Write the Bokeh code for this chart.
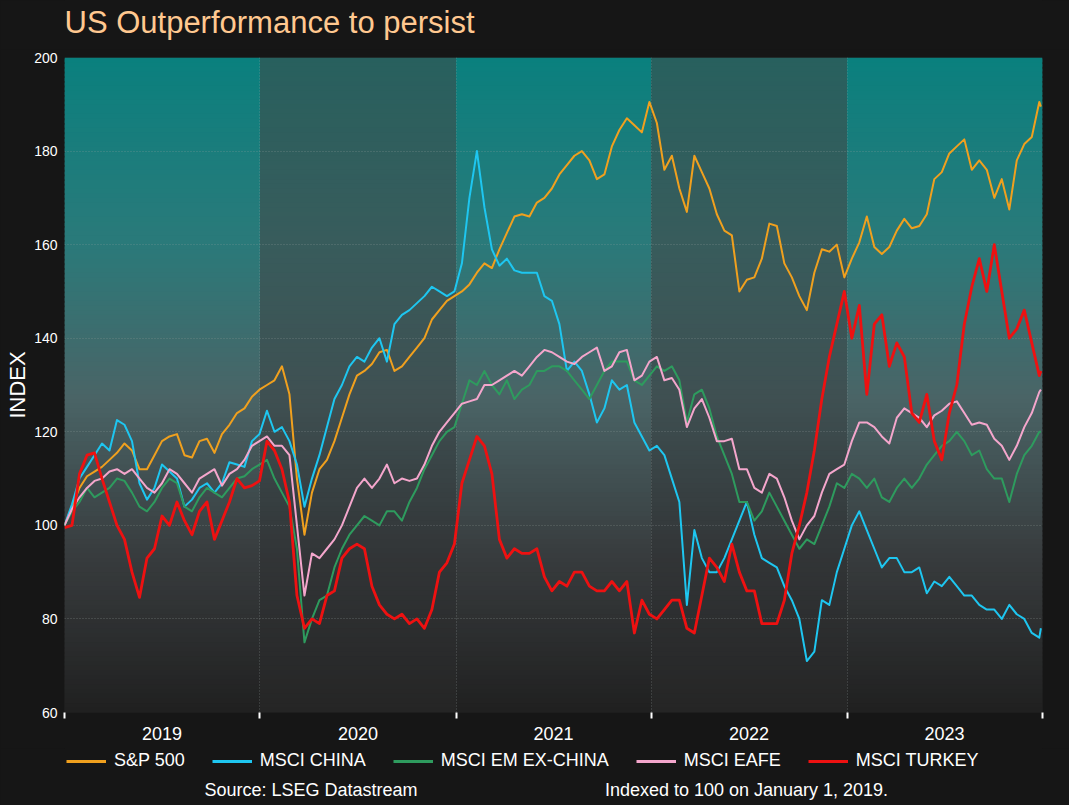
import pandas as pd
from datetime import datetime
from bokeh.plotting import figure
from bokeh.layouts import column
from bokeh.models import (FixedTicker, CustomJSTickFormatter, Legend, LegendItem,
                          ColumnDataSource, Range1d)
from bokeh.core.properties import value
from bokeh.embed import file_html
from bokeh.resources import INLINE

# ---------------- data ----------------
dates = list(pd.date_range("2019-01-01", periods=131, freq="14D")) + [pd.Timestamp("2023-12-29")]

sp500 = [100, 104, 108, 110.5, 111.5, 112.5, 114, 115.5, 117.5, 116, 112, 112, 115, 118, 119, 119.5,
         115, 114.5, 118, 118.5, 115.5, 119.5, 121.5, 124, 125, 127.5, 129, 130, 131, 134, 128, 110,
         98, 107, 112, 114, 118, 123, 128, 132, 133, 134.5, 137, 137.5, 133, 134, 136, 138,
         140, 144, 146, 148, 149, 150, 151.5, 154, 156, 155, 159, 162.5, 166, 166.5, 166, 169,
         170, 172, 175, 177, 179, 180, 178, 174, 175, 181, 184.5, 187, 185.5, 184, 190.5, 186,
         176, 179, 172, 167, 179, 175.5, 172, 166.5, 163, 162, 150, 152.5, 153, 157, 164.5, 164,
         156, 153, 149, 146, 154, 159, 158.5, 160, 153, 157, 160.5, 166, 159.5, 158, 159.5, 163,
         165.5, 163.5, 164, 166.5, 174, 175.5, 179.5, 181, 182.5, 176, 178, 176, 170, 174, 167.5, 178,
         181.5, 183, 190.5, 189.5]

msci_china = [100, 104.5, 110, 112.5, 115, 117.5, 116, 122.5, 121.5, 118, 109, 105.5, 108, 113, 111.5, 110,
              104, 105.5, 108, 109, 107, 109, 113.5, 113, 112.5, 118, 119.5, 124.5, 120, 121, 118, 113,
              104, 110, 115, 121, 127, 130, 134, 136, 135, 138, 140, 135, 143, 145, 146, 147.5,
              149, 151, 150, 149, 150, 156, 170, 180, 168, 159, 155.5, 157, 154.5, 154, 154, 154,
              149, 148, 143, 133, 135, 133, 128, 122, 125, 131, 129, 130, 122, 119, 116, 117,
              115, 110, 105, 83, 99, 93, 90, 90, 93, 97, 101, 105, 98, 93, 92, 91,
              87, 84, 80, 71, 73, 84, 83, 90, 95, 100, 103, 99, 95, 91, 93, 93,
              90, 90, 91, 85.5, 88, 87, 89, 87, 85, 85, 83, 82, 82, 80, 83, 81,
              80, 77, 76, 78]

msci_em_ex_china = [100, 103, 105, 108, 106, 107, 108, 110, 109.5, 107, 104, 103, 105, 108, 110, 109,
                    104, 103, 106, 108, 107, 106, 108, 110, 110.5, 112, 113, 114, 110, 107, 104, 95,
                    75, 80, 84, 85, 91, 95, 98, 100, 102, 101, 100, 103, 103, 101, 105, 108,
                    112, 115, 118, 120, 121, 126, 131, 130, 133, 130, 128, 131, 127, 129, 130, 133,
                    133, 134, 134, 133, 131, 129, 127, 130, 133, 135, 135, 135, 131, 130, 132, 134,
                    133, 134, 131, 122, 128, 129, 125, 119, 115, 111, 105, 105, 101, 103, 107, 104,
                    101, 98, 95, 97, 96, 100, 104, 109, 108, 111, 110, 108, 110, 106, 105, 108,
                    110, 108, 110, 113, 115, 117, 118, 120, 118, 115, 116, 112, 110, 110, 105, 111,
                    115, 117, 120, 120]

msci_eafe = [100, 103.5, 106, 108, 109.5, 110, 111.5, 112, 111, 112, 110, 108, 107, 109, 112, 111,
             109, 107, 110, 111, 112, 108.5, 111, 112, 114, 117, 118, 119, 117, 117, 115, 100,
             85, 94, 93, 95, 97, 100, 104, 108, 110, 108, 110, 113, 109, 110, 109.5, 110,
             113, 117, 120, 122, 124, 126, 126.5, 127, 130, 130, 131, 132, 133, 132, 134, 136,
             137.5, 137, 136, 135, 134.5, 136, 137, 138, 133, 134, 137, 137.5, 131, 132, 135, 136,
             131, 131.5, 129, 121, 125, 127, 123, 118, 118, 118.5, 112, 112, 108, 107, 111, 110,
             106, 101, 97, 100, 102, 107, 111, 112, 113, 118, 122, 122, 121, 119, 117.5, 123,
             125, 124, 123, 121, 123.5, 124.5, 126, 126.5, 124, 121.5, 122, 121.5, 118.5, 117, 114, 117,
             121, 124, 128.5, 129]

msci_turkey = [99.5, 100, 111, 115, 115.5, 110, 105, 100, 97, 90, 84.6, 93, 95, 102, 100, 105,
               101, 98, 103, 105, 97, 101, 105, 110, 108, 108.5, 109.5, 118, 116, 112, 105, 85,
               78, 80, 79, 85, 86, 93, 95, 96, 95, 87, 83, 81, 80, 81, 79, 80,
               78, 82, 90, 92, 96, 109, 114, 119, 117, 111, 97, 93, 95, 94, 94, 95,
               89, 86, 88, 87, 90, 90, 87, 86, 86, 88, 86, 88, 77, 84, 81, 80,
               82, 84, 84, 78, 77, 85, 93, 91, 88, 96, 90, 86, 86, 79, 79, 79,
               84, 94, 100, 107, 116, 127, 136, 143, 150, 140, 147, 128, 143, 145, 134, 139,
               136, 124, 122, 128, 118, 114, 124, 130, 143, 151, 157, 150, 160, 150, 140, 142,
               146, 139, 132, 133]

series_names = ["S&P 500", "MSCI CHINA", "MSCI EM EX-CHINA", "MSCI EAFE", "MSCI TURKEY"]
series_values = [sp500, msci_china, msci_em_ex_china, msci_eafe, msci_turkey]
series_colors = ["#f0a01e", "#1ec6f0", "#2e9b5e", "#f4a6cc", "#ee1111"]
series_widths = [2, 2, 2, 2, 2.8]

years = [2019, 2020, 2021, 2022, 2023]
y_ticks = [60, 80, 100, 120, 140, 160, 180, 200]
title_text = "US Outperformance to persist"
notes = ["Source: LSEG Datastream", "Indexed to 100 on January 1, 2019."]

FONT = "Liberation Sans"
BG = "#161616"
W = 1069
FRAME_L, FRAME_R = 64, 1042


def ms(ts):
    return int(pd.Timestamp(ts).timestamp() * 1000)


def strip(h):
    # frames in a column are aligned with the main plot's frame, so x maps to page pixels
    f = figure(width=W, height=h, x_range=Range1d(FRAME_L, FRAME_R), y_range=Range1d(h, 0),
               output_backend="svg", toolbar_location=None,
               min_border_left=0, min_border_right=0, min_border_top=0, min_border_bottom=0)
    f.axis.visible = False
    f.grid.visible = False
    f.outline_line_color = None
    f.border_fill_color = BG
    f.background_fill_color = BG
    return f


# ---------------- title strip ----------------
top = strip(49)
top.text(x=[64], y=[21.5], text=[title_text], text_align="left", text_baseline="middle",
         text_color="#ffc890", text_font=value(FONT), text_font_size="31px")

# ---------------- main figure ----------------
p = figure(width=W, height=699, x_axis_type="datetime",
           x_range=(datetime(2019, 1, 1), datetime(2024, 1, 1)), y_range=(60, 200),
           output_backend="svg", toolbar_location=None,
           min_border_left=FRAME_L, min_border_right=W - FRAME_R, min_border_top=8, min_border_bottom=36)
p.border_fill_color = BG
p.background_fill_color = "#222222"
p.outline_line_color = None

# gradient background bands
light = [(0.0, (10, 128, 126)), (0.28, (42, 122, 122)), (0.52, (74, 100, 102)),
         (0.76, (56, 60, 62)), (1.0, (32, 32, 32))]
dark = [(0.0, (40, 96, 94)), (0.28, (56, 92, 92)), (0.52, (63, 80, 82)),
        (0.76, (50, 53, 55)), (1.0, (37, 37, 37))]


def interp(stops, t):
    for (t0, c0), (t1, c1) in zip(stops[:-1], stops[1:]):
        if t0 <= t <= t1:
            f = (t - t0) / (t1 - t0)
            c = [round(a + (b - a) * f) for a, b in zip(c0, c1)]
            return "#%02x%02x%02x" % tuple(c)
    return "#%02x%02x%02x" % stops[-1][1]


N = 140
step = 140 / N
L, R, B, T, C = [], [], [], [], []
for k, yr in enumerate(years):
    stops = light if k % 2 == 0 else dark
    left = pd.Timestamp(f"{yr}-01-01")
    right = pd.Timestamp(f"{yr + 1}-01-01")
    for j in range(N):
        b = 60 + j * step
        frac = 1 - (b + step / 2 - 60) / 140
        L.append(left); R.append(right); B.append(b); T.append(min(b + step + 0.6, 200))
        C.append(interp(stops, frac))
bg = p.quad(left=L, right=R, bottom=B, top=T, fill_color=C, line_color=None)
bg.level = "image"

# grids
p.ygrid.ticker = FixedTicker(ticks=y_ticks)
p.ygrid.grid_line_color = "#9aa0a0"
p.ygrid.grid_line_alpha = 0.45
p.ygrid.grid_line_dash = "1 2"
p.xgrid.ticker = FixedTicker(ticks=[ms(f"{y}-01-01") for y in years + [2024]])
p.xgrid.grid_line_color = "#9aa0a0"
p.xgrid.grid_line_alpha = 0.45
p.xgrid.grid_line_dash = "1 2"

# lines
for name, vals, col, w in zip(series_names, series_values, series_colors, series_widths):
    src = ColumnDataSource(dict(x=dates, y=vals))
    p.line("x", "y", source=src, line_color=col, line_width=w, line_join="round")

# axes
xa = p.xaxis[0]
xa.ticker = FixedTicker(ticks=[ms(f"{y}-07-02") for y in years],
                        minor_ticks=[ms(f"{y}-01-01") for y in years + [2024]])
xa.formatter = CustomJSTickFormatter(code="return new Date(tick).getUTCFullYear().toString();")
xa.major_tick_line_color = None
xa.major_tick_out = 0
xa.major_tick_in = 0
xa.minor_tick_line_color = "white"
xa.minor_tick_line_width = 2
xa.minor_tick_out = 6
xa.minor_tick_in = 0
xa.axis_line_color = None
xa.major_label_text_color = "white"
xa.major_label_text_font = FONT
xa.major_label_text_font_size = "18px"
xa.major_label_standoff = 8

ya = p.yaxis[0]
ya.ticker = FixedTicker(ticks=y_ticks)
ya.major_tick_line_color = None
ya.minor_tick_line_color = None
ya.major_tick_out = 0
ya.axis_line_color = None
ya.major_label_text_color = "white"
ya.major_label_text_font = FONT
ya.major_label_text_font_size = "14px"
ya.major_label_standoff = 7
ya.axis_label = "INDEX"
ya.axis_label_text_color = "white"
ya.axis_label_text_font = FONT
ya.axis_label_text_font_size = "22px"
ya.axis_label_text_font_style = "normal"
ya.axis_label_standoff = 1

# ---------------- legend / notes strip ----------------
q = strip(57)
items = []
for name, col in zip(series_names, series_colors):
    r = q.line(x=[0, 10], y=[-20, -20], line_color=col, line_width=3)
    items.append(LegendItem(label=name, renderers=[r]))
legend = Legend(items=items, orientation="horizontal", location="top_left",
                background_fill_alpha=0, border_line_color=None,
                label_text_color="white", label_text_font=FONT, label_text_font_size="18px",
                glyph_width=40, glyph_height=20, label_standoff=8, spacing=27,
                margin=2, padding=3)
q.add_layout(legend, "center")

q.text(x=[310.5, 746], y=[41, 41], text=notes, text_align="center", text_baseline="middle",
       text_color="white", text_font=value(FONT), text_font_size="18px")

page = column(top, p, q, spacing=0)
page.styles = {"background-color": BG}

html = file_html(page, INLINE).replace("<head>", "<head><style>html,body{background:#161616;}</style>", 1)
open("out.html", "w").write(html)
